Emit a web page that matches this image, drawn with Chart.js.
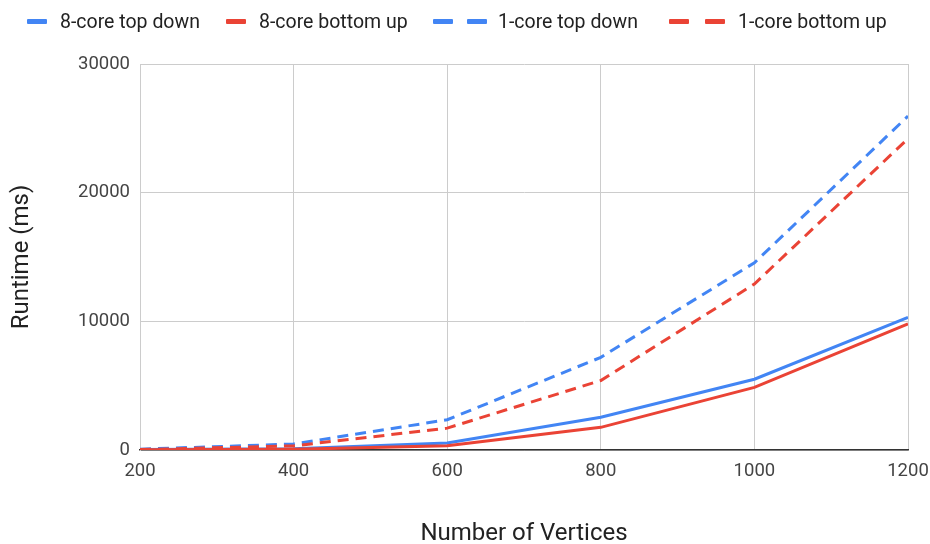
<!DOCTYPE html>
<html>
<head>
<meta charset="utf-8">
<script src="https://cdn.jsdelivr.net/npm/chart.js@4/dist/chart.umd.min.js"></script>
<style>
  html, body { margin: 0; padding: 0; background: #fff; }
  #wrap { position: relative; width: 930px; height: 544px; }
  canvas { position: absolute; left: 0; top: 0; }
  .lg { position: absolute; font-family: Roboto, sans-serif; font-size: 19.5px; color: #222; line-height: 24px; top: 10px; white-space: nowrap; }
  .mk { position: absolute; top: 19px; height: 5px; width: 20px; border-radius: 1px; }
</style>
</head>
<body>
<div id="wrap">
  <canvas id="c" width="930" height="544"></canvas>
</div>
<script>
// ---- data ----
const vertices = [200, 400, 600, 800, 1000, 1200];
const core8TopDown = [30, 100, 540, 2550, 5500, 10300];
const core8BottomUp = [10, 50, 330, 1760, 4870, 9800];
const core1TopDown = [60, 470, 2350, 7200, 14550, 25950];
const core1BottomUp = [30, 320, 1700, 5400, 12900, 24200];
const seriesNames = ['8-core top down', '8-core bottom up', '1-core top down', '1-core bottom up'];
const yTicks = [0, 10000, 20000, 30000];
const xTicks = [200, 400, 600, 800, 1000, 1200];

const BLUE = '#4285F4', RED = '#EA4335';
const toPts = arr => vertices.map((v, i) => ({x: v, y: arr[i]}));

// ---- HTML legend (text as real text) ----
const legendSpec = [
  {name: seriesNames[0], color: BLUE, marks: [27], text: 60},
  {name: seriesNames[1], color: RED, marks: [226], text: 259},
  {name: seriesNames[2], color: BLUE, marks: [433, 467], text: 498},
  {name: seriesNames[3], color: RED, marks: [669, 705], text: 738}
];
const wrap = document.getElementById('wrap');
legendSpec.forEach(it => {
  it.marks.forEach(mx => {
    const m = document.createElement('div');
    m.className = 'mk';
    m.style.left = mx + 'px';
    m.style.background = it.color;
    wrap.appendChild(m);
  });
  const t = document.createElement('div');
  t.className = 'lg';
  t.style.left = it.text + 'px';
  t.textContent = it.name;
  wrap.appendChild(t);
});

const ds = (label, data, color, dashed) => ({
  label, data: toPts(data), borderColor: color, backgroundColor: color,
  borderWidth: 3, pointRadius: 0, tension: 0, fill: false,
  borderDash: dashed ? [11, 7] : [], borderCapStyle: 'butt'
});

new Chart(document.getElementById('c'), {
  type: 'line',
  data: {
    datasets: [
      ds(seriesNames[3], core1BottomUp, RED, true),
      ds(seriesNames[2], core1TopDown, BLUE, true),
      ds(seriesNames[1], core8BottomUp, RED, false),
      ds(seriesNames[0], core8TopDown, BLUE, false)
    ]
  },
  options: {
    responsive: false,
    animation: false,
    layout: { padding: { top: 64, right: 0, left: 0, bottom: 0 } },
    plugins: { legend: { display: false }, tooltip: { enabled: false } },
    scales: {
      x: {
        type: 'linear', min: 200, max: 1200,
        afterBuildTicks: s => { s.ticks = xTicks.map(v => ({value: v})); },
        afterFit: s => { s.height = 94; s.paddingRight = 22; s.paddingLeft = 0; },
        grid: { color: '#cccccc', lineWidth: 1, drawTicks: false },
        border: { color: '#333333', width: 1.5 },
        ticks: { padding: 10, color: '#444', font: { family: 'Roboto', size: 18.5 }, maxRotation: 0,
                 callback: v => String(v) },
        title: { display: true, text: 'Number of Vertices', color: '#222', font: { family: 'Roboto', size: 24 }, padding: { top: 0, bottom: -4 } }
      },
      y: {
        min: 0, max: 30000,
        afterBuildTicks: s => { s.ticks = yTicks.map(v => ({value: v})); },
        afterFit: s => { s.width = 140; },
        grid: { color: '#cccccc', lineWidth: 1, drawTicks: false },
        border: { color: '#cccccc' },
        ticks: { padding: 10, color: '#444', font: { family: 'Roboto', size: 18.5 },
                 callback: v => String(v) },
        title: { display: true, text: 'Runtime (ms)', color: '#222', font: { family: 'Roboto', size: 24 }, padding: { top: 8, bottom: 0 } }
      }
    }
  }
});
</script>
</body>
</html>
